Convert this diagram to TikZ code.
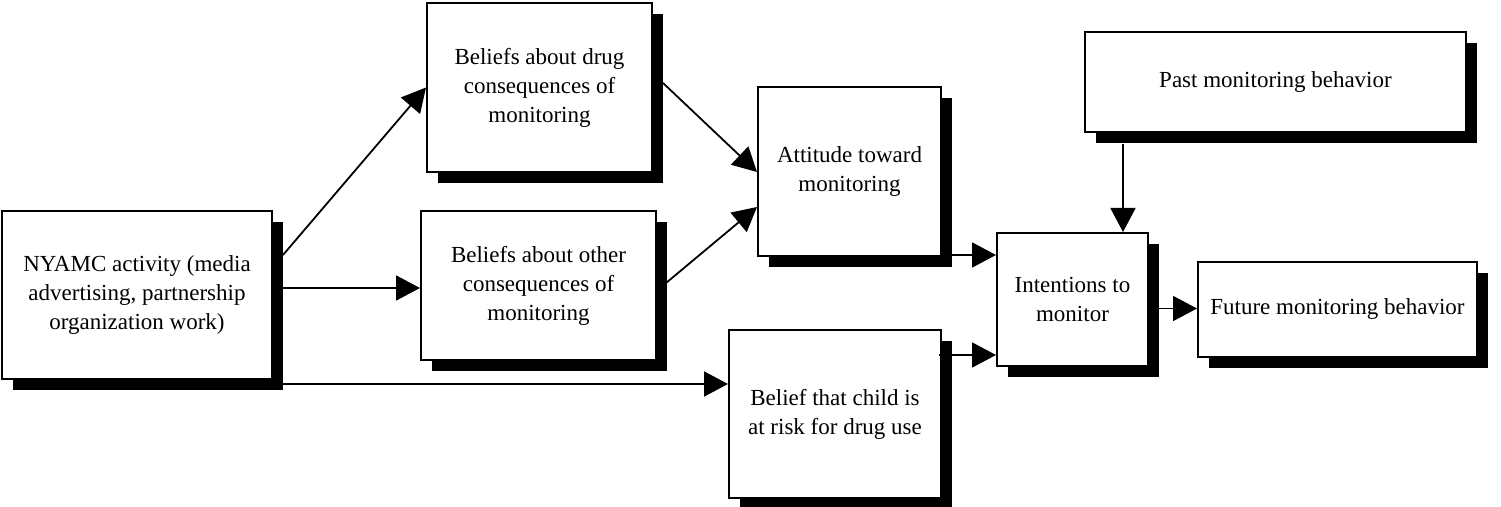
\documentclass[tikz,border=0pt]{standalone}
\usepackage{fontspec}
\setmainfont{Liberation Serif}
\usepackage{tikz}
\usetikzlibrary{arrows.meta,shadows}

\begin{document}
\begin{tikzpicture}[
    x=0.5pt, y=-0.5pt,
    box/.style={rectangle, draw, line width=1pt, fill=white, inner sep=0pt, align=center,
        font=\fontsize{11.5}{14.5}\selectfont,
        drop shadow={shadow xshift=5.5pt, shadow yshift=-5.5pt, fill=black, opacity=1}},
    link/.style={line width=0.9pt, -{Triangle[length=12pt, width=12.5pt]}}
]
\useasboundingbox (0,0) rectangle (1501,507);

% Campaign activity (left)
\node[box, minimum width=135pt, minimum height=84pt] (nyamc) at (137,295)
    {NYAMC activity (media\\advertising, partnership\\organization work)};

% Beliefs
\node[box, minimum width=112.5pt, minimum height=84.5pt] (drug) at (539.5,87.5)
    {Beliefs about drug\\consequences of\\monitoring};
\node[box, minimum width=117.5pt, minimum height=74.5pt] (other) at (538.5,285.5)
    {Beliefs about other\\consequences of\\monitoring};
\node[box, minimum width=106pt, minimum height=84pt] (child) at (835,414)
    {Belief that child is\\at risk for drug use};

% Attitude and intentions
\node[box, minimum width=91.5pt, minimum height=84.5pt] (attitude) at (849.5,171.5)
    {Attitude toward\\monitoring};
\node[box, minimum width=75.5pt, minimum height=66.5pt] (intent) at (1072.5,299.5)
    {Intentions to\\monitor};

% Behavior
\node[box, minimum width=190.5pt, minimum height=50pt] (past) at (1275.5,82)
    {Past monitoring behavior};
\node[box, minimum width=139.5pt, minimum height=47.5pt] (future) at (1337.5,309.5)
    {Future monitoring behavior};

% Paths
\draw[link] ([shift={(10,-40)}]nyamc.east) -- (drug.west);
\draw[link] ([shift={(10,-7)}]nyamc.east) -- ([shift={(0,2.5)}]other.west);
\draw[link] ([shift={(10,89)}]nyamc.east) -- ([shift={(0,-30)}]child.west);
\draw[link] ([shift={(10,-4.5)}]drug.east) -- ([shift={(0,0.5)}]attitude.west);
\draw[link] ([shift={(9,-2.5)}]other.east) -- ([shift={(0,35.5)}]attitude.west);
\draw[link] ([shift={(9,83.5)}]attitude.east) -- ([shift={(0,-44.5)}]intent.west);
\draw[link] ([shift={(-3,-59)}]child.east) -- ([shift={(0,55.5)}]intent.west);
\draw[link] ([shift={(-152.5,11)}]past.south) -- ([shift={(50.5,0)}]intent.north);
\draw[link] ([shift={(10,9)}]intent.east) -- ([shift={(0,-1)}]future.west);

\end{tikzpicture}
\end{document}
